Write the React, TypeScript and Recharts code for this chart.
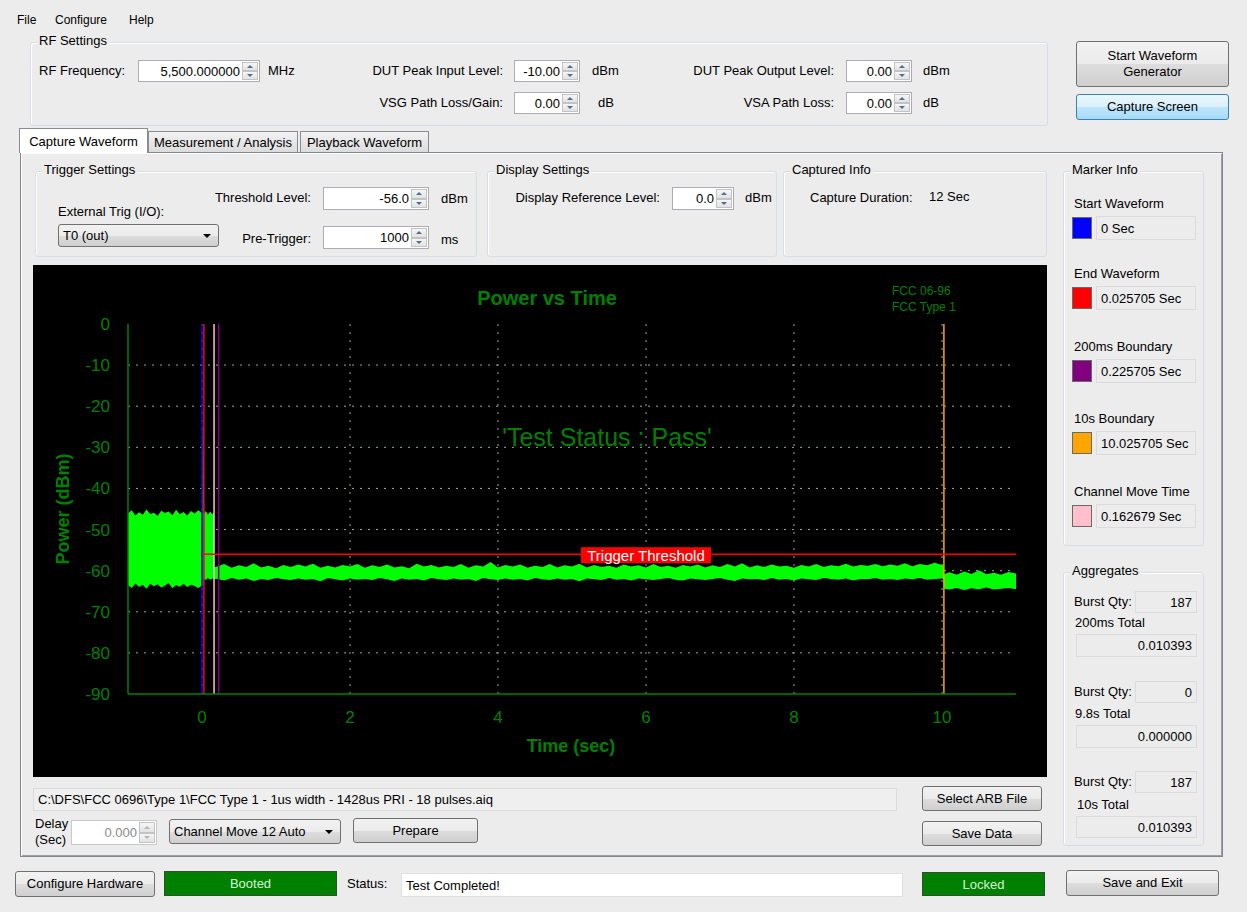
import React from 'react';
import {
  ComposedChart, Area, XAxis, YAxis, CartesianGrid, ReferenceLine, ReferenceDot, Customized,
} from 'recharts';

// ---------- chart data ----------
const xTicks = [0, 2, 4, 6, 8, 10];
const yTicks = [0, -10, -20, -30, -40, -50, -60, -70, -80, -90];
const gridX = [0, 2, 4, 6, 8, 10];
const gridY = [-10, -20, -30, -40, -50, -60, -70, -80];

// pre-trigger segment (before the start marker)
const preTime = [-1.0, -0.95, -0.9, -0.85, -0.8, -0.75, -0.7, -0.65, -0.6, -0.55, -0.5, -0.45, -0.4, -0.35, -0.3, -0.25, -0.2, -0.15, -0.1, -0.05, 0.0];
const preHigh = [-46.1, -45.3, -46.6, -45.8, -46.4, -45.1, -46.2, -45.9, -46.7, -45.4, -46.0, -45.6, -46.5, -45.2, -46.3, -45.7, -46.6, -45.5, -46.1, -45.3, -46.0];
const preLow = [-63.5, -64.2, -63.1, -63.9, -63.4, -64.4, -63.2, -63.8, -63.3, -64.1, -63.6, -63.0, -64.3, -63.5, -63.9, -63.2, -64.0, -63.4, -63.7, -64.2, -63.6];

// burst segment (spike + radar burst until channel move)
const burstTime = [0.006, 0.018, 0.024, 0.05, 0.08, 0.11, 0.14, 0.16, 0.163];
const burstHigh = [-25.0, -25.0, -46.2, -45.5, -46.4, -45.6, -46.3, -45.9, -59.2];
const burstLow = [-63.7, -63.7, -62.0, -62.3, -61.8, -62.2, -61.9, -62.0, -62.0];

// after channel move, up to 10 s boundary
const quietTime = [
  0.2, 0.3, 0.4, 0.5, 0.6, 0.7, 0.8, 0.9, 1.0, 1.1,
  1.2, 1.3, 1.4, 1.5, 1.6, 1.7, 1.8, 1.9, 2.0, 2.1,
  2.2, 2.3, 2.4, 2.5, 2.6, 2.7, 2.8, 2.9, 3.0, 3.1,
  3.2, 3.3, 3.4, 3.5, 3.6, 3.7, 3.8, 3.9, 4.0, 4.1,
  4.2, 4.3, 4.4, 4.5, 4.6, 4.7, 4.8, 4.9, 5.0, 5.1,
  5.2, 5.3, 5.4, 5.5, 5.6, 5.7, 5.8, 5.9, 6.0, 6.1,
  6.2, 6.3, 6.4, 6.5, 6.6, 6.7, 6.8, 6.9, 7.0, 7.1,
  7.2, 7.3, 7.4, 7.5, 7.6, 7.7, 7.8, 7.9, 8.0, 8.1,
  8.2, 8.3, 8.4, 8.5, 8.6, 8.7, 8.8, 8.9, 9.0, 9.1,
  9.2, 9.3, 9.4, 9.5, 9.6, 9.7, 9.8, 9.9, 10.0, 10.02,
];
const quietHigh = [
  -59.0, -58.4, -59.3, -58.7, -59.1, -58.2, -59.2, -58.8, -59.4, -58.6,
  -59.1, -58.5, -59.0, -58.3, -59.3, -58.8, -59.2, -58.6, -59.0, -58.4,
  -59.3, -58.7, -59.1, -58.5, -59.2, -58.9, -59.4, -58.3, -59.0, -58.6,
  -59.2, -58.8, -59.1, -58.4, -59.3, -58.7, -59.0, -57.9, -59.2, -58.6,
  -59.0, -58.5, -59.3, -58.8, -59.1, -58.4, -59.2, -58.7, -59.0, -58.3,
  -59.2, -58.6, -59.1, -58.8, -59.3, -58.5, -59.0, -58.7, -59.2, -58.4,
  -59.1, -58.8, -59.3, -58.6, -59.0, -58.5, -59.2, -58.7, -59.1, -58.4,
  -59.0, -58.2, -59.2, -58.7, -59.1, -58.5, -59.0, -58.8, -59.3, -58.6,
  -59.0, -58.4, -59.1, -58.7, -58.9, -58.3, -59.0, -58.6, -58.8, -58.4,
  -58.9, -58.5, -58.8, -58.2, -58.9, -58.4, -58.7, -58.1, -58.6, -58.6,
];
const quietLow = [
  -62.0, -62.4, -61.8, -62.2, -61.9, -62.5, -62.0, -62.3, -61.8, -62.1,
  -62.3, -61.9, -62.2, -62.0, -62.6, -61.8, -62.1, -62.4, -61.9, -62.2,
  -62.0, -62.3, -61.8, -62.1, -62.5, -61.9, -62.2, -62.0, -62.4, -61.8,
  -62.1, -62.3, -61.9, -62.2, -62.0, -62.5, -61.8, -62.1, -62.3, -61.9,
  -62.2, -62.0, -62.4, -61.8, -62.1, -62.3, -61.9, -62.2, -62.0, -62.6,
  -61.9, -62.1, -62.3, -61.8, -62.2, -62.0, -62.4, -61.9, -62.1, -62.3,
  -62.0, -61.8, -62.2, -62.4, -61.9, -62.1, -62.3, -62.0, -61.8, -62.2,
  -62.5, -61.9, -62.1, -62.0, -62.3, -61.8, -62.2, -62.0, -62.4, -61.9,
  -62.1, -62.3, -61.8, -62.0, -62.2, -61.9, -62.4, -62.0, -62.1, -61.8,
  -62.2, -62.0, -62.3, -61.9, -62.1, -61.8, -62.2, -62.0, -61.9, -62.0,
];

// after the 10 s boundary
const tailTime = [10.03, 10.1, 10.2, 10.3, 10.4, 10.5, 10.6, 10.7, 10.8, 10.9, 11.0];
const tailHigh = [-60.9, -60.4, -61.0, -60.2, -60.8, -59.9, -60.9, -60.5, -61.0, -60.3, -60.7];
const tailLow = [-64.4, -64.6, -64.2, -64.7, -64.3, -64.5, -64.1, -64.6, -64.4, -64.2, -64.5];

const markerNames = ['Start Waveform', 'End Waveform', '200ms Boundary', '10s Boundary', 'Channel Move Time'];
const markerTimes = [0, 0.025705, 0.225705, 10.025705, 0.162679];
const markerLabels = ['0 Sec', '0.025705 Sec', '0.225705 Sec', '10.025705 Sec', '0.162679 Sec'];
const markerColors = ['#0000ff', '#ff0000', '#800080', '#ffa500', '#ffc0cb'];

const thresholdLevel = -56;
const thresholdStart = 0;

const noiseTime = [...preTime, ...burstTime, ...quietTime, ...tailTime];
const noiseHigh = [...preHigh, ...burstHigh, ...quietHigh, ...tailHigh];
const noiseLow = [...preLow, ...burstLow, ...quietLow, ...tailLow];
const bandData = noiseTime.map((t, i) => ({ t, band: [noiseLow[i], noiseHigh[i]] }));

// ---------- UI helpers ----------
const UI_FONT = '"Liberation Sans", Arial, sans-serif';
const BG = '#ececec';

type TxtProps = { x: number; y: number; text: React.ReactNode; right?: boolean; size?: number; color?: string; bold?: boolean };
function Txt({ x, y, text, right, size = 13, color = '#000', bold }: TxtProps) {
  const style: React.CSSProperties = {
    position: 'absolute', top: y - size * 0.6, fontSize: size, lineHeight: `${size * 1.2}px`,
    whiteSpace: 'nowrap', color, fontWeight: bold ? 700 : 400,
  };
  if (right) return <div style={{ ...style, left: x - 300, width: 300, textAlign: 'right' }}>{text}</div>;
  return <div style={{ ...style, left: x }}>{text}</div>;
}

function Tri({ up, color = '#4d6d92' }: { up?: boolean; color?: string }) {
  return (
    <div style={{
      width: 0, height: 0, borderLeft: '3px solid transparent', borderRight: '3px solid transparent',
      ...(up ? { borderBottom: `3px solid ${color}` } : { borderTop: `3px solid ${color}` }),
    }} />
  );
}

function Spinner({ faded }: { faded?: boolean }) {
  const c = faded ? '#b5b5b5' : '#4d6d92';
  const half: React.CSSProperties = {
    flex: 1, display: 'flex', alignItems: 'center', justifyContent: 'center',
    background: 'linear-gradient(#f6f6f6, #e2e2e2)', border: '1px solid #c3c3c3', boxSizing: 'border-box',
  };
  return (
    <div style={{ position: 'absolute', right: 1, top: 1, bottom: 1, width: 16, display: 'flex', flexDirection: 'column' }}>
      <div style={half}><Tri up color={c} /></div>
      <div style={half}><Tri color={c} /></div>
    </div>
  );
}

type FieldProps = {
  x1: number; y1: number; x2: number; y2: number; value: string; spin?: boolean; left?: boolean;
  bg?: string; color?: string; border?: string; pad?: number;
};
function Field({ x1, y1, x2, y2, value, spin, left, bg = '#fff', color = '#000', border = '#abadb3', pad = 4 }: FieldProps) {
  return (
    <div style={{
      position: 'absolute', left: x1, top: y1, width: x2 - x1, height: y2 - y1, boxSizing: 'border-box',
      border: `1px solid ${border}`, background: bg,
    }}>
      <div style={{
        position: 'absolute', left: pad, right: spin ? 19 : pad, top: 0, bottom: 0, display: 'flex', alignItems: 'center',
        justifyContent: left ? 'flex-start' : 'flex-end', fontSize: 13, color, whiteSpace: 'nowrap',
      }}>{value}</div>
      {spin && <Spinner faded={color !== '#000'} />}
    </div>
  );
}

type BtnProps = { x1: number; y1: number; x2: number; y2: number; label: React.ReactNode; blue?: boolean };
function Btn({ x1, y1, x2, y2, label, blue }: BtnProps) {
  return (
    <div style={{
      position: 'absolute', left: x1, top: y1, width: x2 - x1, height: y2 - y1, boxSizing: 'border-box',
      border: `1px solid ${blue ? '#3c7fb1' : '#707070'}`, borderRadius: 3,
      background: blue ? 'linear-gradient(#eaf6fd 0%, #d9f0fc 50%, #bee6fd 51%, #a7d9f5 100%)'
        : 'linear-gradient(#f2f2f2 0%, #ebebeb 50%, #dddddd 51%, #cfcfcf 100%)',
      display: 'flex', alignItems: 'center', justifyContent: 'center', textAlign: 'center',
      fontSize: 13, lineHeight: '16px',
    }}>{label}</div>
  );
}

function Combo({ x1, y1, x2, y2, value }: { x1: number; y1: number; x2: number; y2: number; value: string }) {
  return (
    <div style={{
      position: 'absolute', left: x1, top: y1, width: x2 - x1, height: y2 - y1, boxSizing: 'border-box',
      border: '1px solid #707070', borderRadius: 3,
      background: 'linear-gradient(#f2f2f2 0%, #ebebeb 50%, #dddddd 51%, #cfcfcf 100%)',
      display: 'flex', alignItems: 'center', fontSize: 13, paddingLeft: 4,
    }}>
      {value}
      <div style={{
        position: 'absolute', right: 7, top: '50%', marginTop: -2, width: 0, height: 0,
        borderLeft: '4px solid transparent', borderRight: '4px solid transparent', borderTop: '4px solid #000',
      }} />
    </div>
  );
}

function Group({ x1, y1, x2, y2, label }: { x1: number; y1: number; x2: number; y2: number; label: string }) {
  return (
    <>
      <div style={{
        position: 'absolute', left: x1, top: y1, width: x2 - x1, height: y2 - y1, boxSizing: 'border-box',
        border: '1px solid #d5dfe5', borderRadius: 3, boxShadow: 'inset 1px 1px 0 #fff',
      }} />
      <div style={{
        position: 'absolute', left: x1 + 7, top: y1 - 9, fontSize: 13, lineHeight: '16px', background: BG,
        padding: '0 2px', whiteSpace: 'nowrap',
      }}>{label}</div>
    </>
  );
}

function Swatch({ x, y, color }: { x: number; y: number; color: string }) {
  return (
    <div style={{
      position: 'absolute', left: x, top: y, width: 20, height: 22, boxSizing: 'border-box',
      border: '1px solid #6a6a6a', background: color,
    }} />
  );
}

function StatusBox({ x1, y1, x2, y2, text }: { x1: number; y1: number; x2: number; y2: number; text: string }) {
  return (
    <div style={{
      position: 'absolute', left: x1, top: y1, width: x2 - x1, height: y2 - y1, boxSizing: 'border-box',
      border: '1px solid #2f4f2f', background: '#008000', color: '#d4f5d4', fontSize: 13,
      display: 'flex', alignItems: 'center', justifyContent: 'center',
    }}>{text}</div>
  );
}

// ---------- chart ----------
const GREEN = '#008000';
const CHART_FONT = '"Liberation Sans", Arial, sans-serif';

function ChartTexts() {
  return (
    <g fontFamily={CHART_FONT}>
      <text x={514} y={33} textAnchor="middle" dominantBaseline="central" fill={GREEN} fontSize={20} fontWeight={700}>Power vs Time</text>
      <text x={859} y={26} dominantBaseline="central" fill={GREEN} fontSize={12}>FCC 06-96</text>
      <text x={859} y={42} dominantBaseline="central" fill={GREEN} fontSize={12}>FCC Type 1</text>
      <text x={574} y={172} textAnchor="middle" dominantBaseline="central" fill={GREEN} fontSize={25}>'Test Status : Pass'</text>
      <text x={538} y={481} textAnchor="middle" dominantBaseline="central" fill={GREEN} fontSize={18} fontWeight={700}>Time (sec)</text>
      <text x={30} y={244} textAnchor="middle" dominantBaseline="central" fill={GREEN} fontSize={18} fontWeight={700}
        transform="rotate(-90, 30, 244)">Power (dBm)</text>
    </g>
  );
}

function ThresholdTag(props: any) {
  const { cx, cy } = props;
  if (cx == null || cy == null) return null;
  return (
    <g>
      <rect x={cx - 65} y={cy - 7} width={130} height={16} fill="#ff0000" />
      <text x={cx} y={cy + 1} textAnchor="middle" dominantBaseline="central" fill="#fff" fontSize={15}
        fontFamily={CHART_FONT}>Trigger Threshold</text>
    </g>
  );
}

function PowerChart() {
  return (
    <ComposedChart width={1014} height={512} data={bandData} margin={{ top: 59, right: 31, left: 0, bottom: 0 }}
      style={{ background: '#000' }}>
      <CartesianGrid stroke="#8fb08f" strokeDasharray="2 6" horizontalValues={gridY} verticalValues={gridX} />
      <XAxis dataKey="t" type="number" domain={[-1, 11]} ticks={xTicks} allowDataOverflow
        axisLine={{ stroke: GREEN, strokeWidth: 1.5 }}
        tickLine={false} tickSize={0} tickMargin={17} height={83}
        tick={{ fill: GREEN, fontSize: 17, fontFamily: CHART_FONT }} />
      <XAxis xAxisId="top" orientation="top" dataKey="t" type="number" domain={[-1, 11]} allowDataOverflow
        axisLine={{ stroke: GREEN, strokeWidth: 1.5 }} tick={false} tickLine={false} height={0} />
      <YAxis type="number" domain={[-90, 0]} ticks={yTicks} allowDataOverflow
        axisLine={{ stroke: GREEN, strokeWidth: 1.5 }} tickLine={false}
        tickSize={0} tickMargin={18} width={95} tick={{ fill: GREEN, fontSize: 17, fontFamily: CHART_FONT }} />
      <YAxis yAxisId="right" orientation="right" type="number" domain={[-90, 0]} allowDataOverflow
        axisLine={{ stroke: GREEN, strokeWidth: 1.5 }} tick={false} tickLine={false} width={0} />
      <Area dataKey="band" type="linear" stroke="none" fill="#00ff00" fillOpacity={1} isAnimationActive={false} />
      {markerTimes.map((t, i) => (
        <ReferenceLine key={markerNames[i]} x={t} stroke={markerColors[i]} strokeWidth={1.5} ifOverflow="visible" />
      ))}
      <ReferenceLine segment={[{ x: thresholdStart, y: thresholdLevel }, { x: 11, y: thresholdLevel }]}
        stroke="#ff0000" strokeWidth={1.5} />
      <ReferenceDot x={6} y={thresholdLevel} r={0} shape={ThresholdTag} />
      <Customized component={ChartTexts} />
    </ComposedChart>
  );
}

export default function App() {
  return (
    <div style={{
      position: 'absolute', left: 0, top: 0, width: 1247, height: 912, background: BG, fontFamily: UI_FONT,
      fontSize: 13, color: '#000', overflow: 'hidden',
    }}>
      {/* menu */}
      <Txt x={17} y={20} text="File" size={12} />
      <Txt x={55} y={20} text="Configure" size={12} />
      <Txt x={129} y={20} text="Help" size={12} />

      {/* RF settings */}
      <Group x1={30} y1={42} x2={1048} y2={126} label="RF Settings" />
      <Txt x={125} y={71} right text="RF Frequency:" />
      <Field x1={138} y1={60} x2={260} y2={82} value="5,500.000000" spin />
      <Txt x={268} y={71} text="MHz" />
      <Txt x={503} y={71} right text="DUT Peak Input Level:" />
      <Field x1={514} y1={60} x2={580} y2={82} value="-10.00" spin />
      <Txt x={592} y={71} text="dBm" />
      <Txt x={834} y={71} right text="DUT Peak Output Level:" />
      <Field x1={846} y1={60} x2={912} y2={82} value="0.00" spin />
      <Txt x={923} y={71} text="dBm" />
      <Txt x={503} y={103} right text="VSG Path Loss/Gain:" />
      <Field x1={514} y1={92} x2={580} y2={114} value="0.00" spin />
      <Txt x={598} y={103} text="dB" />
      <Txt x={834} y={103} right text="VSA Path Loss:" />
      <Field x1={846} y1={92} x2={912} y2={114} value="0.00" spin />
      <Txt x={923} y={103} text="dB" />

      <Btn x1={1076} y1={41} x2={1229} y2={87} label={<span>Start Waveform<br />Generator</span>} />
      <Btn x1={1076} y1={94} x2={1229} y2={120} label="Capture Screen" blue />

      {/* tab page */}
      <div style={{
        position: 'absolute', left: 20, top: 152, width: 1203, height: 705, boxSizing: 'border-box',
        border: '1px solid #828790', boxShadow: 'inset 1px 1px 0 #fff, inset -1px -1px 0 #a0a0a0',
      }} />
      <div style={{
        position: 'absolute', left: 148, top: 131, width: 150, height: 21, boxSizing: 'border-box',
        border: '1px solid #898c95', borderBottom: 'none', background: 'linear-gradient(#f2f2f2, #dcdcdc)',
        display: 'flex', alignItems: 'center', justifyContent: 'center', fontSize: 13,
      }}>Measurement / Analysis</div>
      <div style={{
        position: 'absolute', left: 300, top: 131, width: 129, height: 21, boxSizing: 'border-box',
        border: '1px solid #898c95', borderBottom: 'none', background: 'linear-gradient(#f2f2f2, #dcdcdc)',
        display: 'flex', alignItems: 'center', justifyContent: 'center', fontSize: 13,
      }}>Playback Waveform</div>
      <div style={{
        position: 'absolute', left: 19, top: 128, width: 129, height: 25, boxSizing: 'border-box',
        border: '1px solid #898c95', borderBottom: 'none', background: '#fff',
        display: 'flex', alignItems: 'center', justifyContent: 'center', fontSize: 13,
      }}>Capture Waveform</div>

      {/* trigger settings */}
      <Group x1={35} y1={171} x2={477} y2={257} label="Trigger Settings" />
      <Txt x={311} y={198} right text="Threshold Level:" />
      <Field x1={323} y1={187} x2={429} y2={210} value="-56.0" spin />
      <Txt x={441} y={199} text="dBm" />
      <Txt x={58} y={212} text="External Trig (I/O):" />
      <Combo x1={58} y1={224} x2={219} y2={247} value="T0 (out)" />
      <Txt x={311} y={239} right text="Pre-Trigger:" />
      <Field x1={323} y1={226} x2={429} y2={249} value="1000" spin />
      <Txt x={441} y={240} text="ms" />

      {/* display settings */}
      <Group x1={487} y1={171} x2={777} y2={257} label="Display Settings" />
      <Txt x={660} y={198} right text="Display Reference Level:" />
      <Field x1={672} y1={187} x2={734} y2={210} value="0.0" spin />
      <Txt x={745} y={198} text="dBm" />

      {/* captured info */}
      <Group x1={783} y1={171} x2={1047} y2={257} label="Captured Info" />
      <Txt x={810} y={198} text="Capture Duration:" />
      <Txt x={929} y={197} text="12 Sec" />

      {/* marker info */}
      <Group x1={1063} y1={171} x2={1204} y2={546} label="Marker Info" />
      {markerNames.map((name, i) => {
        const rowY = [204, 274, 347, 419, 492][i];
        return (
          <React.Fragment key={name}>
            <Txt x={1074} y={rowY} text={name} />
            <Swatch x={1072} y={rowY + 13} color={markerColors[i]} />
            <Field x1={1096} y1={rowY + 12} x2={1196} y2={rowY + 36} value={markerLabels[i]} left bg={BG}
              border="#dcdcdc" />
          </React.Fragment>
        );
      })}

      {/* aggregates */}
      <Group x1={1063} y1={572} x2={1204} y2={846} label="Aggregates" />
      <Txt x={1074} y={602} text="Burst Qty:" />
      <Field x1={1135} y1={591} x2={1197} y2={613} value="187" bg={BG} border="#dcdcdc" />
      <Txt x={1075} y={623} text="200ms Total" />
      <Field x1={1076} y1={634} x2={1197} y2={657} value="0.010393" bg={BG} border="#dcdcdc" />
      <Txt x={1074} y={692} text="Burst Qty:" />
      <Field x1={1135} y1={681} x2={1197} y2={703} value="0" bg={BG} border="#dcdcdc" />
      <Txt x={1075} y={714} text="9.8s Total" />
      <Field x1={1076} y1={725} x2={1197} y2={748} value="0.000000" bg={BG} border="#dcdcdc" />
      <Txt x={1074} y={782} text="Burst Qty:" />
      <Field x1={1135} y1={771} x2={1197} y2={793} value="187" bg={BG} border="#dcdcdc" />
      <Txt x={1077} y={805} text="10s Total" />
      <Field x1={1076} y1={816} x2={1197} y2={838} value="0.010393" bg={BG} border="#dcdcdc" />

      {/* chart */}
      <div style={{ position: 'absolute', left: 33, top: 265, width: 1014, height: 512 }}>
        <PowerChart />
      </div>

      {/* below chart */}
      <Field x1={33} y1={788} x2={897} y2={811} value="C:\DFS\FCC 0696\Type 1\FCC Type 1 - 1us width - 1428us PRI - 18 pulses.aiq"
        left bg="#efefef" border="#dcdcdc" />
      <Txt x={35} y={824} text="Delay" />
      <Txt x={35} y={840} text="(Sec)" />
      <Field x1={71} y1={820} x2={157} y2={845} value="0.000" spin color="#8a8a8a" border="#c9c9c9" />
      <Combo x1={169} y1={819} x2={341} y2={844} value="Channel Move 12 Auto" />
      <Btn x1={353} y1={818} x2={478} y2={843} label="Prepare" />
      <Btn x1={922} y1={786} x2={1042} y2={811} label="Select ARB File" />
      <Btn x1={922} y1={821} x2={1042} y2={846} label="Save Data" />

      {/* bottom bar */}
      <Btn x1={15} y1={871} x2={155} y2={897} label="Configure Hardware" />
      <StatusBox x1={164} y1={871} x2={337} y2={896} text="Booted" />
      <Txt x={347} y={884} text="Status:" />
      <Field x1={401} y1={873} x2={903} y2={897} value="Test Completed!" left border="#e0e0e0" />
      <StatusBox x1={922} y1={872} x2={1045} y2={896} text="Locked" />
      <Btn x1={1066} y1={870} x2={1219} y2={896} label="Save and Exit" />
    </div>
  );
}
